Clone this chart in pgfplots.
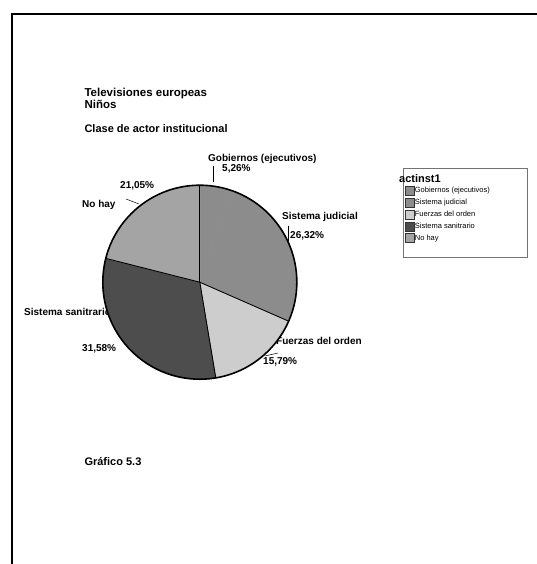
\documentclass[border=0pt]{standalone}
\usepackage{pgfplots}
\pgfplotsset{compat=1.18}
\usepackage{pgfplotstable}
\usepackage{fontspec}
\setmainfont{Liberation Sans}

\definecolor{cGob}{HTML}{8C8C8C}
\definecolor{cJud}{HTML}{8C8C8C}
\definecolor{cFue}{HTML}{CDCDCD}
\definecolor{cSan}{HTML}{4D4D4D}
\definecolor{cNoh}{HTML}{A4A4A4}

% porcentajes de cada clase de actor (en sentido horario desde arriba)
\pgfplotstableread[col sep=comma]{
label,pct,col,edge
Gobiernos (ejecutivos),5.26,cGob,1
Sistema judicial,26.32,cJud,0
Fuerzas del orden,15.79,cFue,1
Sistema sanitrario,31.58,cSan,1
No hay,21.05,cNoh,1
}\piedata

\begin{document}
\begin{tikzpicture}[x=1pt,y=1pt]
\useasboundingbox (0,0) rectangle (537,564);
% marco
\draw[line width=1.5pt] (12,0) -- (12,550) -- (537,550);

% titulos
\node[anchor=base west,font=\fontsize{11.5}{13}\bfseries] at (81,467) {Televisiones europeas};
\node[anchor=base west,font=\fontsize{11.5}{13}\bfseries] at (81,455) {Niños};
\node[anchor=base west,font=\fontsize{11}{13}\bfseries] at (81,431) {Clase de actor institucional};
\node[anchor=base west,font=\fontsize{11}{13}\bfseries] at (81,98) {Gráfico 5.3};

% etiquetas del pastel (debajo del pastel)
\begin{scope}[every node/.style={anchor=base west,font=\fontsize{10}{12}\bfseries,inner sep=0pt}]
\node at (208,402) {Gobiernos (ejecutivos)};
\node at (222,392) {5,26\%};
\node at (282,344) {Sistema judicial};
\node at (290,325) {26,32\%};
\node at (276,219) {Fuerzas del orden};
\node at (263,199) {15,79\%};
\node at (24,248) {Sistema sanitrario};
\node at (82,212) {31,58\%};
\node at (82,356) {No hay};
\node at (120,375) {21,05\%};
\end{scope}
\draw[line width=0.5pt] (213,398) -- (213,382);
\draw[line width=0.5pt] (288,338) -- (288,323);
\draw[line width=0.5pt] (265,208) -- (278,211);
\draw[line width=0.5pt] (126,365) -- (139,360);

% cuadro de la leyenda
\draw[black!55,line width=0.6pt] (403,396) rectangle (527,307);
\node[anchor=base west,font=\fontsize{11}{13}\bfseries,inner sep=0pt] at (399,381) {actinst1};

\begin{axis}[
    at={(206,290.5)}, anchor=center,
    x=97pt, y=97pt,
    xmin=-1.1, xmax=1.1, ymin=-1.1, ymax=1.1,
    hide axis, clip=false,
    legend image code/.code={\draw[#1,draw=black!80,line width=0.5pt] (0pt,-4.5pt) rectangle (9pt,4.5pt);},
    legend cell align=left,
    legend style={at={(axis cs:2.112,0.995)}, anchor=north west,
        draw=none, fill=none, inner sep=0pt, row sep=2.4pt,
        font=\fontsize{7.5}{8.5}\selectfont,
        nodes={inner sep=0pt, anchor=west},
        /tikz/every odd column/.append style={column sep=0.5pt}},
    ]
\def\cum{0}
\pgfplotsforeachungrouped \i in {0,...,4}{%
  \pgfplotstablegetelem{\i}{pct}\of\piedata \let\slpct\pgfplotsretval
  \pgfplotstablegetelem{\i}{col}\of\piedata \let\slcol\pgfplotsretval
  \pgfmathsetmacro\angA{90-3.6*\cum}
  \pgfmathsetmacro\angB{90-3.6*(\cum+\slpct)}
  \edef\temp{\noexpand\filldraw[fill=\slcol,draw=\slcol,line width=0.4pt] (axis cs:0,0) -- (axis cs:{cos(\angA)},{sin(\angA)}) arc[start angle=\angA, end angle=\angB, radius=97pt] -- cycle;}
  \temp
  \pgfmathsetmacro\cum{\cum+\slpct}
}
% lineas entre sectores
\def\cum{0}
\pgfplotsforeachungrouped \i in {0,...,4}{%
  \pgfplotstablegetelem{\i}{pct}\of\piedata \let\slpct\pgfplotsretval
  \pgfplotstablegetelem{\i}{edge}\of\piedata \let\sledge\pgfplotsretval
  \pgfmathsetmacro\angA{90-3.6*\cum}
  \ifnum\sledge=1
    \edef\temp{\noexpand\draw[line width=0.9pt] (axis cs:0,0) -- (axis cs:{cos(\angA)},{sin(\angA)});}
    \temp
  \fi
  \pgfmathsetmacro\cum{\cum+\slpct}
}
\draw[line width=1.6pt] (axis cs:0,0) circle[radius=97pt];

\addlegendimage{fill=cGob}
\addlegendimage{fill=cJud}
\addlegendimage{fill=cFue}
\addlegendimage{fill=cSan}
\addlegendimage{fill=cNoh}
\legend{Gobiernos (ejecutivos),Sistema judicial,Fuerzas del orden,Sistema sanitrario,No hay}
\end{axis}
\end{tikzpicture}
\end{document}
